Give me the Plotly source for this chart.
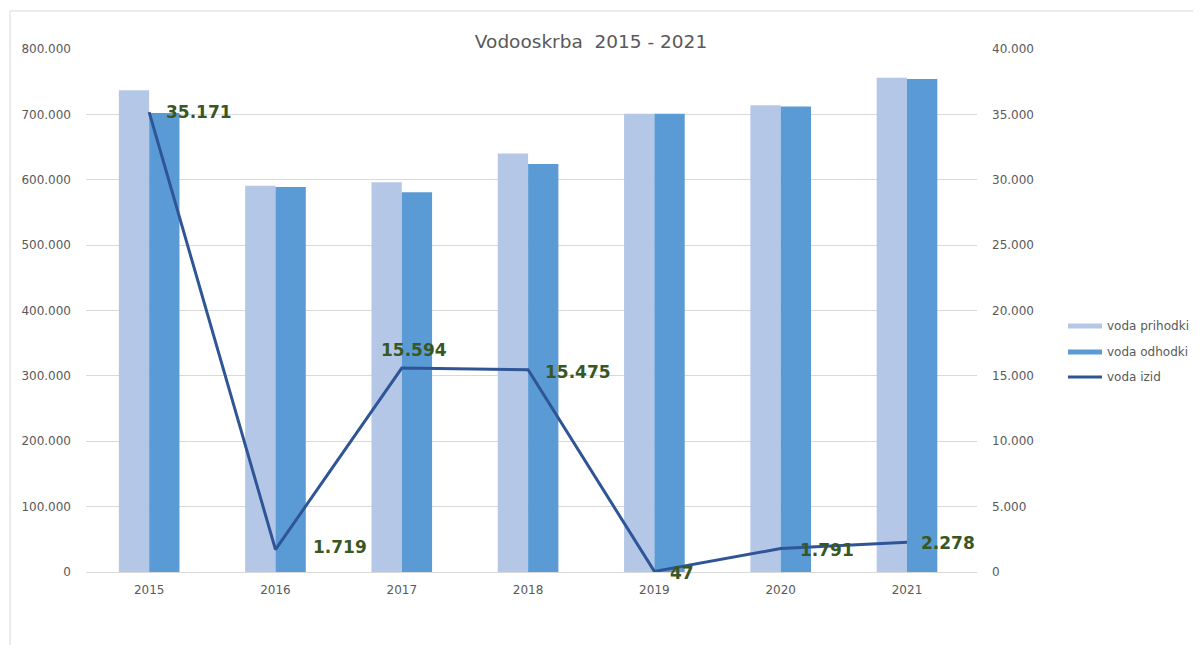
import plotly.graph_objects as go

years = ["2015", "2016", "2017", "2018", "2019", "2020", "2021"]
voda_prihodki = [737000, 591000, 596000, 640000, 701000, 714000, 756000]
voda_odhodki = [702000, 589000, 581000, 624000, 701000, 712000, 754000]
voda_izid = [35171, 1719, 15594, 15475, 47, 1791, 2278]
izid_labels = ["35.171", "1.719", "15.594", "15.475", "47", "1.791", "2.278"]

grey = "#595959"
c_prih = "#b4c7e7"
c_odh = "#5b9bd5"
c_izid = "#2f5597"
c_lbl = "#385723"
fnt = "DejaVu Sans"

# odmik oznak (px): xanchor, xshift, yshift
lbl_style = [("left", 15, 0), ("left", 36, 3), ("center", 12, 18), ("left", 15, -2),
             ("left", 14, -2), ("left", 17, -1), ("left", 12, -1)]

fig = go.Figure()

fig.add_trace(go.Bar(x=years, y=voda_prihodki, name="voda prihodki",
                     marker=dict(color=c_prih, line=dict(width=0))))
fig.add_trace(go.Bar(x=years, y=voda_odhodki, name="voda odhodki",
                     marker=dict(color=c_odh, line=dict(width=0))))
fig.add_trace(go.Scatter(x=years, y=voda_izid, name="voda izid", yaxis="y2",
                         mode="lines", line=dict(color=c_izid, width=3)))

# na kategorijski osi annotation x = indeks kategorije ("2015" bi bil indeks 2015)
for i, (val, txt, (xa, xs, ys)) in enumerate(zip(voda_izid, izid_labels, lbl_style)):
    fig.add_annotation(x=i, y=val, xref="x", yref="y2", text=txt, showarrow=False,
                       xanchor=xa, yanchor="middle", xshift=xs, yshift=ys,
                       font=dict(family=fnt, size=17, color=c_lbl, weight="bold"))

# okvir grafa (rob je odrezan na sliki)
fig.add_shape(type="rect", xref="paper", yref="paper",
              x0=-0.0853, x1=1.4, y0=-0.3, y1=1.0727,
              line=dict(color="#d9d9d9", width=1), layer="below")

# legenda, narisana rocno kot v Excelu
leg_y = [0.4704, 0.4207, 0.3728]
for trace, ly in zip(fig.data, leg_y):
    if trace.type == "bar":
        fig.add_shape(type="rect", xref="paper", yref="paper",
                      x0=1.1021, x1=1.1403, y0=ly - 0.0048, y1=ly + 0.0048,
                      fillcolor=trace.marker.color, line=dict(width=0))
    else:
        fig.add_shape(type="line", xref="paper", yref="paper",
                      x0=1.1021, x1=1.1403, y0=ly, y1=ly,
                      line=dict(color=trace.line.color, width=3))
    fig.add_annotation(xref="paper", yref="paper", x=1.1437, y=ly, text=trace.name,
                       showarrow=False, xanchor="left", yanchor="middle",
                       font=dict(family=fnt, size=12, color=grey))

fig.update_layout(
    title=dict(text="Vodooskrba  2015 - 2021", x=0.4887, xanchor="center",
               y=0.948, yanchor="middle",
               font=dict(family=fnt, size=18.5, color=grey)),
    separators=",.",
    barmode="group", bargap=0.52, bargroupgap=0,
    showlegend=False,
    width=1193, height=637,
    margin=dict(l=78, r=224, t=41, b=73, autoexpand=False),
    plot_bgcolor="white", paper_bgcolor="white",
    font=dict(family=fnt, size=12, color=grey),
    xaxis=dict(type="category", showgrid=False, showline=True, linecolor="#d9d9d9",
               linewidth=1, ticks="", ticklabelstandoff=7,
               tickfont=dict(size=12, color=grey)),
    yaxis=dict(range=[0, 800000], dtick=100000, tickformat=",d",
               showgrid=True, gridcolor="#d9d9d9", zeroline=False,
               ticklabelstandoff=14, tickfont=dict(size=12, color=grey)),
    yaxis2=dict(range=[0, 40000], dtick=5000, tickformat=",d", overlaying="y",
                side="right", showgrid=False, zeroline=False,
                ticklabelstandoff=14, tickfont=dict(size=12, color=grey)),
)

fig.write_html("out.html")
